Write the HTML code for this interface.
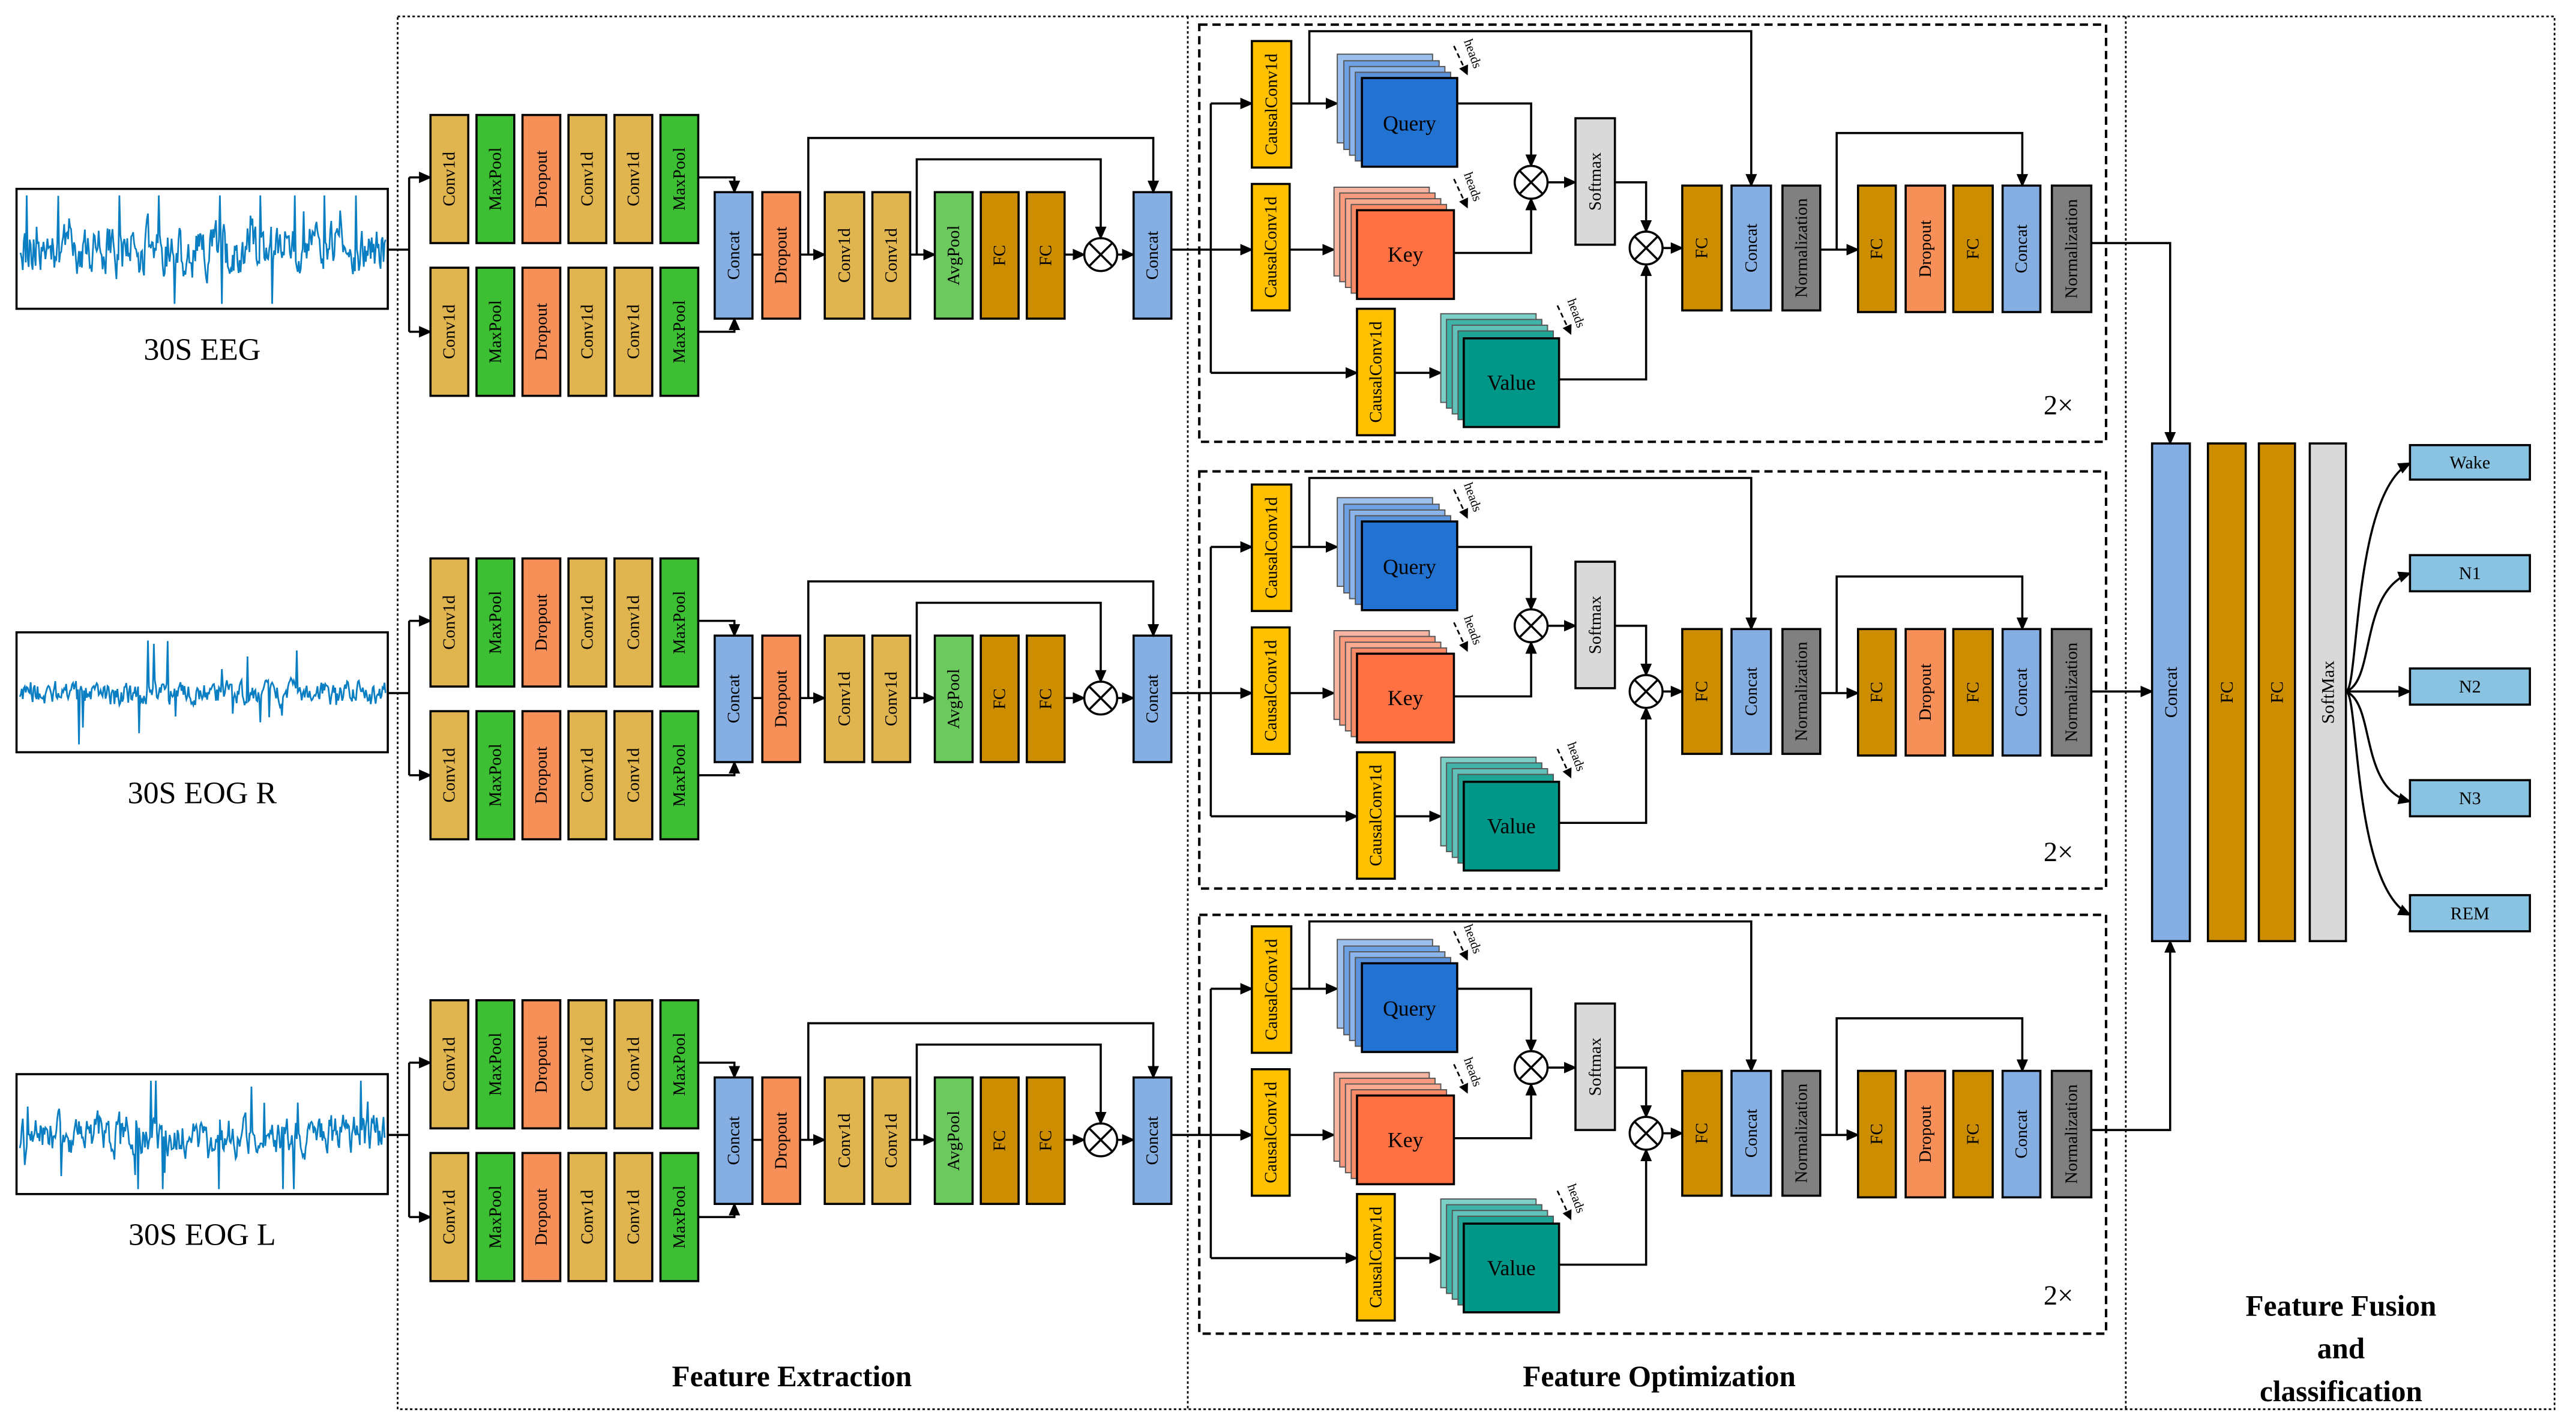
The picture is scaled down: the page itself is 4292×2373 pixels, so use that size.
<!DOCTYPE html>
<html><head><meta charset="utf-8"><style>
html,body{margin:0;padding:0;background:#fff;}
svg{display:block;}
text{font-family:"Liberation Serif",serif;fill:#000;}
.b{stroke:#000;stroke-width:1.3;}
.l{stroke:#000;stroke-width:1.3;fill:none;}
.t{font-size:10.5px;text-anchor:middle;dominant-baseline:central;}
.o{font-size:11px;text-anchor:middle;dominant-baseline:central;}
.qk{font-size:13px;text-anchor:middle;dominant-baseline:central;}
.h{font-size:8px;}
.st{stroke:#555;stroke-width:0.7;}
</style></head><body>
<svg width="4292" height="2373" viewBox="0 0 1568 867" xmlns="http://www.w3.org/2000/svg">
<defs>
<marker id="a" markerWidth="8" markerHeight="8" refX="7" refY="4" orient="auto" markerUnits="userSpaceOnUse"><path d="M0,0.5 L8,4 L0,7.5 Z" fill="#000"/></marker>
<marker id="s" markerWidth="6" markerHeight="6" refX="5" refY="3" orient="auto" markerUnits="userSpaceOnUse"><path d="M0,0 L6,3 L0,6 Z" fill="#000"/></marker>
</defs>
<rect width="1568" height="867" fill="#fff"/>
<rect x="242" y="10" width="1313" height="848" fill="none" stroke="#000" stroke-width="1" stroke-dasharray="1.5,1.5"/>
<line x1="723" y1="10" x2="723" y2="858" stroke="#000" stroke-width="1" stroke-dasharray="1.5,1.5"/>
<line x1="1294" y1="10" x2="1294" y2="858" stroke="#000" stroke-width="1" stroke-dasharray="1.5,1.5"/>

<!-- ===== ROW 1 ===== -->
<g>
<rect x="10" y="115" width="226" height="73" fill="#fff" class="b"/>
<polyline id="w1" fill="none" stroke="#0A7EC2" stroke-width="1" points=""/>
<text x="123" y="213" style="font-size:19px" text-anchor="middle" dominant-baseline="central">30S EEG</text>
<path class="l" d="M236,152 H249 M249,108 V202"/>
<path class="l" marker-end="url(#a)" d="M249,108 H262"/>
<path class="l" marker-end="url(#a)" d="M249,202 H262"/>
<rect x="262" y="70" width="23" height="78" fill="#E0B550" class="b"/><text class="t" transform="translate(273.5,109) rotate(-90)">Conv1d</text>
<rect x="290" y="70" width="23" height="78" fill="#3CBF32" class="b"/><text class="t" transform="translate(301.5,109) rotate(-90)">MaxPool</text>
<rect x="318" y="70" width="23" height="78" fill="#F79058" class="b"/><text class="t" transform="translate(329.5,109) rotate(-90)">Dropout</text>
<rect x="346" y="70" width="23" height="78" fill="#E0B550" class="b"/><text class="t" transform="translate(357.5,109) rotate(-90)">Conv1d</text>
<rect x="374" y="70" width="23" height="78" fill="#E0B550" class="b"/><text class="t" transform="translate(385.5,109) rotate(-90)">Conv1d</text>
<rect x="402" y="70" width="23" height="78" fill="#3CBF32" class="b"/><text class="t" transform="translate(413.5,109) rotate(-90)">MaxPool</text>
<rect x="262" y="163" width="23" height="78" fill="#E0B550" class="b"/><text class="t" transform="translate(273.5,202) rotate(-90)">Conv1d</text>
<rect x="290" y="163" width="23" height="78" fill="#3CBF32" class="b"/><text class="t" transform="translate(301.5,202) rotate(-90)">MaxPool</text>
<rect x="318" y="163" width="23" height="78" fill="#F79058" class="b"/><text class="t" transform="translate(329.5,202) rotate(-90)">Dropout</text>
<rect x="346" y="163" width="23" height="78" fill="#E0B550" class="b"/><text class="t" transform="translate(357.5,202) rotate(-90)">Conv1d</text>
<rect x="374" y="163" width="23" height="78" fill="#E0B550" class="b"/><text class="t" transform="translate(385.5,202) rotate(-90)">Conv1d</text>
<rect x="402" y="163" width="23" height="78" fill="#3CBF32" class="b"/><text class="t" transform="translate(413.5,202) rotate(-90)">MaxPool</text>
<path class="l" marker-end="url(#a)" d="M425,108 H447 V117"/>
<path class="l" marker-end="url(#a)" d="M425,202 H447 V194"/>
<rect x="435" y="117" width="23" height="77" fill="#85AEE3" class="b"/><text class="t" transform="translate(446.5,155.5) rotate(-90)">Concat</text>
<path class="l" d="M458,155 H464"/>
<rect x="464" y="117" width="23" height="77" fill="#F79058" class="b"/><text class="t" transform="translate(475.5,155.5) rotate(-90)">Dropout</text>
<path class="l" marker-end="url(#a)" d="M487,155 H502"/>
<rect x="502" y="117" width="24" height="77" fill="#E0B550" class="b"/><text class="t" transform="translate(514,155.5) rotate(-90)">Conv1d</text>
<rect x="531" y="117" width="23" height="77" fill="#E0B550" class="b"/><text class="t" transform="translate(542.5,155.5) rotate(-90)">Conv1d</text>
<path class="l" marker-end="url(#a)" d="M554,155 H569"/>
<rect x="569" y="117" width="23" height="77" fill="#6CC95E" class="b"/><text class="t" transform="translate(580.5,155.5) rotate(-90)">AvgPool</text>
<rect x="597" y="117" width="23" height="77" fill="#CC8E00" class="b"/><text class="t" transform="translate(608.5,155.5) rotate(-90)">FC</text>
<rect x="625" y="117" width="23" height="77" fill="#CC8E00" class="b"/><text class="t" transform="translate(636.5,155.5) rotate(-90)">FC</text>
<path class="l" marker-end="url(#a)" d="M648,155 H660"/>
<circle cx="670" cy="155" r="10" fill="#fff" class="b"/><path class="l" d="M663,148 L677,162 M677,148 L663,162"/>
<path class="l" marker-end="url(#a)" d="M680,155 H690"/>
<rect x="690" y="117" width="23" height="77" fill="#85AEE3" class="b"/><text class="t" transform="translate(701.5,155.5) rotate(-90)">Concat</text>
<path class="l" marker-end="url(#a)" d="M492,155 V84 H702 V117"/>
<path class="l" marker-end="url(#a)" d="M558,155 V97 H670 V145"/>
<rect x="730" y="15" width="552" height="254" fill="none" stroke="#000" stroke-width="1.5" stroke-dasharray="5,3"/>
<path class="l" d="M713,152 H737 M737,63 V227"/>
<path class="l" marker-end="url(#a)" d="M737,63 H762"/>
<path class="l" marker-end="url(#a)" d="M737,152 H762"/>
<path class="l" marker-end="url(#a)" d="M737,227 H826"/>
<rect x="762" y="25" width="24" height="77" fill="#FFC000" class="b"/><text class="t" transform="translate(774,63.5) rotate(-90)">CausalConv1d</text>
<rect x="762" y="112" width="23" height="77" fill="#FFC000" class="b"/><text class="t" transform="translate(773.5,150.5) rotate(-90)">CausalConv1d</text>
<rect x="826" y="188" width="23" height="77" fill="#FFC000" class="b"/><text class="t" transform="translate(837.5,226.5) rotate(-90)">CausalConv1d</text>
<path class="l" marker-end="url(#a)" d="M786,63 H814"/>
<path class="l" marker-end="url(#a)" d="M785,152 H812"/>
<path class="l" marker-end="url(#a)" d="M849,227 H877"/>
<rect x="814" y="33" width="58" height="54" fill="#9CC0EE" class="st"/>
<rect x="818" y="37" width="58" height="54" fill="#6EA2E4" class="st"/>
<rect x="821.5" y="40.5" width="58" height="54" fill="#8AB4EA" class="st"/>
<rect x="825" y="44" width="58" height="54" fill="#5A93DC" class="st"/>
<rect x="829" y="47.5" width="58" height="54" fill="#2272D1" class="b"/><text class="qk" x="858" y="75">Query</text>
<rect x="812" y="114" width="58" height="54" fill="#F7B4A0" class="st"/>
<rect x="815.5" y="117.5" width="58" height="54" fill="#F99A7E" class="st"/>
<rect x="819" y="121" width="58" height="54" fill="#FBAA90" class="st"/>
<rect x="822.5" y="124.5" width="58" height="54" fill="#FC8A66" class="st"/>
<rect x="826" y="128" width="59" height="54" fill="#FF7043" class="b"/><text class="qk" x="855.5" y="155">Key</text>
<rect x="877" y="191" width="58" height="54" fill="#7CCFC6" class="st"/>
<rect x="880.5" y="194.5" width="58" height="54" fill="#3FB3A7" class="st"/>
<rect x="884" y="198" width="58" height="54" fill="#60C2B8" class="st"/>
<rect x="887.5" y="201.5" width="58" height="54" fill="#1FA394" class="st"/>
<rect x="891" y="206" width="58" height="54" fill="#009688" class="b"/><text class="qk" x="920" y="233">Value</text>
<text class="h" transform="translate(891,25) rotate(70)">heads</text><path d="M885,28 L893,45" stroke="#000" stroke-width="1" stroke-dasharray="3,2" marker-end="url(#s)"/>
<text class="h" transform="translate(891,106) rotate(70)">heads</text><path d="M885,109 L893,126" stroke="#000" stroke-width="1" stroke-dasharray="3,2" marker-end="url(#s)"/>
<text class="h" transform="translate(954,183) rotate(70)">heads</text><path d="M948,186 L956,203" stroke="#000" stroke-width="1" stroke-dasharray="3,2" marker-end="url(#s)"/>
<path class="l" marker-end="url(#a)" d="M797,63 V19 H1066 V113"/>
<path class="l" marker-end="url(#a)" d="M887,63 H932 V101"/>
<path class="l" marker-end="url(#a)" d="M885,154 H932 V121"/>
<circle cx="932" cy="111" r="10" fill="#fff" class="b"/><path class="l" d="M925,104 L939,118 M939,104 L925,118"/>
<path class="l" marker-end="url(#a)" d="M942,111 H959"/>
<rect x="959" y="72" width="24" height="77" fill="#D9D9D9" class="b"/><text class="t" transform="translate(971,110.5) rotate(-90)">Softmax</text>
<path class="l" marker-end="url(#a)" d="M983,111 H1002 V141"/>
<path class="l" marker-end="url(#a)" d="M949,231 H1002 V161"/>
<circle cx="1002" cy="151" r="10" fill="#fff" class="b"/><path class="l" d="M995,144 L1009,158 M1009,144 L995,158"/>
<path class="l" marker-end="url(#a)" d="M1012,151 H1024"/>
<rect x="1024" y="113" width="24" height="76" fill="#CC8E00" class="b"/><text class="t" transform="translate(1036,151) rotate(-90)">FC</text>
<rect x="1054" y="113" width="24" height="76" fill="#85AEE3" class="b"/><text class="t" transform="translate(1066,151) rotate(-90)">Concat</text>
<rect x="1085" y="113" width="23" height="76" fill="#808080" class="b"/><text class="t" transform="translate(1096.5,151) rotate(-90)">Normalization</text>
<path class="l" marker-end="url(#a)" d="M1108,152 H1131"/>
<path class="l" marker-end="url(#a)" d="M1118,152 V81 H1231 V113"/>
<rect x="1131" y="113" width="23" height="77" fill="#CC8E00" class="b"/><text class="t" transform="translate(1142.5,151.5) rotate(-90)">FC</text>
<rect x="1160" y="113" width="24" height="77" fill="#F79058" class="b"/><text class="t" transform="translate(1172,151.5) rotate(-90)">Dropout</text>
<rect x="1189" y="113" width="24" height="77" fill="#CC8E00" class="b"/><text class="t" transform="translate(1201,151.5) rotate(-90)">FC</text>
<rect x="1219" y="113" width="23" height="77" fill="#85AEE3" class="b"/><text class="t" transform="translate(1230.5,151.5) rotate(-90)">Concat</text>
<rect x="1249" y="113" width="24" height="77" fill="#808080" class="b"/><text class="t" transform="translate(1261,151.5) rotate(-90)">Normalization</text>
<text x="1253" y="247" style="font-size:17px" text-anchor="middle" dominant-baseline="central">2×</text>
</g>

<!-- ===== ROW 2 ===== -->
<g transform="translate(0,270)">
<rect x="10" y="115" width="226" height="73" fill="#fff" class="b"/>
<polyline id="w2" fill="none" stroke="#0A7EC2" stroke-width="1" points=""/>
<text x="123" y="213" style="font-size:19px" text-anchor="middle" dominant-baseline="central">30S EOG R</text>
<path class="l" d="M236,152 H249 M249,108 V202"/>
<path class="l" marker-end="url(#a)" d="M249,108 H262"/>
<path class="l" marker-end="url(#a)" d="M249,202 H262"/>
<rect x="262" y="70" width="23" height="78" fill="#E0B550" class="b"/><text class="t" transform="translate(273.5,109) rotate(-90)">Conv1d</text>
<rect x="290" y="70" width="23" height="78" fill="#3CBF32" class="b"/><text class="t" transform="translate(301.5,109) rotate(-90)">MaxPool</text>
<rect x="318" y="70" width="23" height="78" fill="#F79058" class="b"/><text class="t" transform="translate(329.5,109) rotate(-90)">Dropout</text>
<rect x="346" y="70" width="23" height="78" fill="#E0B550" class="b"/><text class="t" transform="translate(357.5,109) rotate(-90)">Conv1d</text>
<rect x="374" y="70" width="23" height="78" fill="#E0B550" class="b"/><text class="t" transform="translate(385.5,109) rotate(-90)">Conv1d</text>
<rect x="402" y="70" width="23" height="78" fill="#3CBF32" class="b"/><text class="t" transform="translate(413.5,109) rotate(-90)">MaxPool</text>
<rect x="262" y="163" width="23" height="78" fill="#E0B550" class="b"/><text class="t" transform="translate(273.5,202) rotate(-90)">Conv1d</text>
<rect x="290" y="163" width="23" height="78" fill="#3CBF32" class="b"/><text class="t" transform="translate(301.5,202) rotate(-90)">MaxPool</text>
<rect x="318" y="163" width="23" height="78" fill="#F79058" class="b"/><text class="t" transform="translate(329.5,202) rotate(-90)">Dropout</text>
<rect x="346" y="163" width="23" height="78" fill="#E0B550" class="b"/><text class="t" transform="translate(357.5,202) rotate(-90)">Conv1d</text>
<rect x="374" y="163" width="23" height="78" fill="#E0B550" class="b"/><text class="t" transform="translate(385.5,202) rotate(-90)">Conv1d</text>
<rect x="402" y="163" width="23" height="78" fill="#3CBF32" class="b"/><text class="t" transform="translate(413.5,202) rotate(-90)">MaxPool</text>
<path class="l" marker-end="url(#a)" d="M425,108 H447 V117"/>
<path class="l" marker-end="url(#a)" d="M425,202 H447 V194"/>
<rect x="435" y="117" width="23" height="77" fill="#85AEE3" class="b"/><text class="t" transform="translate(446.5,155.5) rotate(-90)">Concat</text>
<path class="l" d="M458,155 H464"/>
<rect x="464" y="117" width="23" height="77" fill="#F79058" class="b"/><text class="t" transform="translate(475.5,155.5) rotate(-90)">Dropout</text>
<path class="l" marker-end="url(#a)" d="M487,155 H502"/>
<rect x="502" y="117" width="24" height="77" fill="#E0B550" class="b"/><text class="t" transform="translate(514,155.5) rotate(-90)">Conv1d</text>
<rect x="531" y="117" width="23" height="77" fill="#E0B550" class="b"/><text class="t" transform="translate(542.5,155.5) rotate(-90)">Conv1d</text>
<path class="l" marker-end="url(#a)" d="M554,155 H569"/>
<rect x="569" y="117" width="23" height="77" fill="#6CC95E" class="b"/><text class="t" transform="translate(580.5,155.5) rotate(-90)">AvgPool</text>
<rect x="597" y="117" width="23" height="77" fill="#CC8E00" class="b"/><text class="t" transform="translate(608.5,155.5) rotate(-90)">FC</text>
<rect x="625" y="117" width="23" height="77" fill="#CC8E00" class="b"/><text class="t" transform="translate(636.5,155.5) rotate(-90)">FC</text>
<path class="l" marker-end="url(#a)" d="M648,155 H660"/>
<circle cx="670" cy="155" r="10" fill="#fff" class="b"/><path class="l" d="M663,148 L677,162 M677,148 L663,162"/>
<path class="l" marker-end="url(#a)" d="M680,155 H690"/>
<rect x="690" y="117" width="23" height="77" fill="#85AEE3" class="b"/><text class="t" transform="translate(701.5,155.5) rotate(-90)">Concat</text>
<path class="l" marker-end="url(#a)" d="M492,155 V84 H702 V117"/>
<path class="l" marker-end="url(#a)" d="M558,155 V97 H670 V145"/>
<rect x="730" y="17" width="552" height="254" fill="none" stroke="#000" stroke-width="1.5" stroke-dasharray="5,3"/>
<path class="l" d="M713,152 H737 M737,63 V227"/>
<path class="l" marker-end="url(#a)" d="M737,63 H762"/>
<path class="l" marker-end="url(#a)" d="M737,152 H762"/>
<path class="l" marker-end="url(#a)" d="M737,227 H826"/>
<rect x="762" y="25" width="24" height="77" fill="#FFC000" class="b"/><text class="t" transform="translate(774,63.5) rotate(-90)">CausalConv1d</text>
<rect x="762" y="112" width="23" height="77" fill="#FFC000" class="b"/><text class="t" transform="translate(773.5,150.5) rotate(-90)">CausalConv1d</text>
<rect x="826" y="188" width="23" height="77" fill="#FFC000" class="b"/><text class="t" transform="translate(837.5,226.5) rotate(-90)">CausalConv1d</text>
<path class="l" marker-end="url(#a)" d="M786,63 H814"/>
<path class="l" marker-end="url(#a)" d="M785,152 H812"/>
<path class="l" marker-end="url(#a)" d="M849,227 H877"/>
<rect x="814" y="33" width="58" height="54" fill="#9CC0EE" class="st"/>
<rect x="818" y="37" width="58" height="54" fill="#6EA2E4" class="st"/>
<rect x="821.5" y="40.5" width="58" height="54" fill="#8AB4EA" class="st"/>
<rect x="825" y="44" width="58" height="54" fill="#5A93DC" class="st"/>
<rect x="829" y="47.5" width="58" height="54" fill="#2272D1" class="b"/><text class="qk" x="858" y="75">Query</text>
<rect x="812" y="114" width="58" height="54" fill="#F7B4A0" class="st"/>
<rect x="815.5" y="117.5" width="58" height="54" fill="#F99A7E" class="st"/>
<rect x="819" y="121" width="58" height="54" fill="#FBAA90" class="st"/>
<rect x="822.5" y="124.5" width="58" height="54" fill="#FC8A66" class="st"/>
<rect x="826" y="128" width="59" height="54" fill="#FF7043" class="b"/><text class="qk" x="855.5" y="155">Key</text>
<rect x="877" y="191" width="58" height="54" fill="#7CCFC6" class="st"/>
<rect x="880.5" y="194.5" width="58" height="54" fill="#3FB3A7" class="st"/>
<rect x="884" y="198" width="58" height="54" fill="#60C2B8" class="st"/>
<rect x="887.5" y="201.5" width="58" height="54" fill="#1FA394" class="st"/>
<rect x="891" y="206" width="58" height="54" fill="#009688" class="b"/><text class="qk" x="920" y="233">Value</text>
<text class="h" transform="translate(891,25) rotate(70)">heads</text><path d="M885,28 L893,45" stroke="#000" stroke-width="1" stroke-dasharray="3,2" marker-end="url(#s)"/>
<text class="h" transform="translate(891,106) rotate(70)">heads</text><path d="M885,109 L893,126" stroke="#000" stroke-width="1" stroke-dasharray="3,2" marker-end="url(#s)"/>
<text class="h" transform="translate(954,183) rotate(70)">heads</text><path d="M948,186 L956,203" stroke="#000" stroke-width="1" stroke-dasharray="3,2" marker-end="url(#s)"/>
<path class="l" marker-end="url(#a)" d="M797,63 V21 H1066 V113"/>
<path class="l" marker-end="url(#a)" d="M887,63 H932 V101"/>
<path class="l" marker-end="url(#a)" d="M885,154 H932 V121"/>
<circle cx="932" cy="111" r="10" fill="#fff" class="b"/><path class="l" d="M925,104 L939,118 M939,104 L925,118"/>
<path class="l" marker-end="url(#a)" d="M942,111 H959"/>
<rect x="959" y="72" width="24" height="77" fill="#D9D9D9" class="b"/><text class="t" transform="translate(971,110.5) rotate(-90)">Softmax</text>
<path class="l" marker-end="url(#a)" d="M983,111 H1002 V141"/>
<path class="l" marker-end="url(#a)" d="M949,231 H1002 V161"/>
<circle cx="1002" cy="151" r="10" fill="#fff" class="b"/><path class="l" d="M995,144 L1009,158 M1009,144 L995,158"/>
<path class="l" marker-end="url(#a)" d="M1012,151 H1024"/>
<rect x="1024" y="113" width="24" height="76" fill="#CC8E00" class="b"/><text class="t" transform="translate(1036,151) rotate(-90)">FC</text>
<rect x="1054" y="113" width="24" height="76" fill="#85AEE3" class="b"/><text class="t" transform="translate(1066,151) rotate(-90)">Concat</text>
<rect x="1085" y="113" width="23" height="76" fill="#808080" class="b"/><text class="t" transform="translate(1096.5,151) rotate(-90)">Normalization</text>
<path class="l" marker-end="url(#a)" d="M1108,152 H1131"/>
<path class="l" marker-end="url(#a)" d="M1118,152 V81 H1231 V113"/>
<rect x="1131" y="113" width="23" height="77" fill="#CC8E00" class="b"/><text class="t" transform="translate(1142.5,151.5) rotate(-90)">FC</text>
<rect x="1160" y="113" width="24" height="77" fill="#F79058" class="b"/><text class="t" transform="translate(1172,151.5) rotate(-90)">Dropout</text>
<rect x="1189" y="113" width="24" height="77" fill="#CC8E00" class="b"/><text class="t" transform="translate(1201,151.5) rotate(-90)">FC</text>
<rect x="1219" y="113" width="23" height="77" fill="#85AEE3" class="b"/><text class="t" transform="translate(1230.5,151.5) rotate(-90)">Concat</text>
<rect x="1249" y="113" width="24" height="77" fill="#808080" class="b"/><text class="t" transform="translate(1261,151.5) rotate(-90)">Normalization</text>
<text x="1253" y="249" style="font-size:17px" text-anchor="middle" dominant-baseline="central">2×</text>
</g>

<!-- ===== ROW 3 ===== -->
<g transform="translate(0,539)">
<rect x="10" y="115" width="226" height="73" fill="#fff" class="b"/>
<polyline id="w3" fill="none" stroke="#0A7EC2" stroke-width="1" points=""/>
<text x="123" y="213" style="font-size:19px" text-anchor="middle" dominant-baseline="central">30S EOG L</text>
<path class="l" d="M236,152 H249 M249,108 V202"/>
<path class="l" marker-end="url(#a)" d="M249,108 H262"/>
<path class="l" marker-end="url(#a)" d="M249,202 H262"/>
<rect x="262" y="70" width="23" height="78" fill="#E0B550" class="b"/><text class="t" transform="translate(273.5,109) rotate(-90)">Conv1d</text>
<rect x="290" y="70" width="23" height="78" fill="#3CBF32" class="b"/><text class="t" transform="translate(301.5,109) rotate(-90)">MaxPool</text>
<rect x="318" y="70" width="23" height="78" fill="#F79058" class="b"/><text class="t" transform="translate(329.5,109) rotate(-90)">Dropout</text>
<rect x="346" y="70" width="23" height="78" fill="#E0B550" class="b"/><text class="t" transform="translate(357.5,109) rotate(-90)">Conv1d</text>
<rect x="374" y="70" width="23" height="78" fill="#E0B550" class="b"/><text class="t" transform="translate(385.5,109) rotate(-90)">Conv1d</text>
<rect x="402" y="70" width="23" height="78" fill="#3CBF32" class="b"/><text class="t" transform="translate(413.5,109) rotate(-90)">MaxPool</text>
<rect x="262" y="163" width="23" height="78" fill="#E0B550" class="b"/><text class="t" transform="translate(273.5,202) rotate(-90)">Conv1d</text>
<rect x="290" y="163" width="23" height="78" fill="#3CBF32" class="b"/><text class="t" transform="translate(301.5,202) rotate(-90)">MaxPool</text>
<rect x="318" y="163" width="23" height="78" fill="#F79058" class="b"/><text class="t" transform="translate(329.5,202) rotate(-90)">Dropout</text>
<rect x="346" y="163" width="23" height="78" fill="#E0B550" class="b"/><text class="t" transform="translate(357.5,202) rotate(-90)">Conv1d</text>
<rect x="374" y="163" width="23" height="78" fill="#E0B550" class="b"/><text class="t" transform="translate(385.5,202) rotate(-90)">Conv1d</text>
<rect x="402" y="163" width="23" height="78" fill="#3CBF32" class="b"/><text class="t" transform="translate(413.5,202) rotate(-90)">MaxPool</text>
<path class="l" marker-end="url(#a)" d="M425,108 H447 V117"/>
<path class="l" marker-end="url(#a)" d="M425,202 H447 V194"/>
<rect x="435" y="117" width="23" height="77" fill="#85AEE3" class="b"/><text class="t" transform="translate(446.5,155.5) rotate(-90)">Concat</text>
<path class="l" d="M458,155 H464"/>
<rect x="464" y="117" width="23" height="77" fill="#F79058" class="b"/><text class="t" transform="translate(475.5,155.5) rotate(-90)">Dropout</text>
<path class="l" marker-end="url(#a)" d="M487,155 H502"/>
<rect x="502" y="117" width="24" height="77" fill="#E0B550" class="b"/><text class="t" transform="translate(514,155.5) rotate(-90)">Conv1d</text>
<rect x="531" y="117" width="23" height="77" fill="#E0B550" class="b"/><text class="t" transform="translate(542.5,155.5) rotate(-90)">Conv1d</text>
<path class="l" marker-end="url(#a)" d="M554,155 H569"/>
<rect x="569" y="117" width="23" height="77" fill="#6CC95E" class="b"/><text class="t" transform="translate(580.5,155.5) rotate(-90)">AvgPool</text>
<rect x="597" y="117" width="23" height="77" fill="#CC8E00" class="b"/><text class="t" transform="translate(608.5,155.5) rotate(-90)">FC</text>
<rect x="625" y="117" width="23" height="77" fill="#CC8E00" class="b"/><text class="t" transform="translate(636.5,155.5) rotate(-90)">FC</text>
<path class="l" marker-end="url(#a)" d="M648,155 H660"/>
<circle cx="670" cy="155" r="10" fill="#fff" class="b"/><path class="l" d="M663,148 L677,162 M677,148 L663,162"/>
<path class="l" marker-end="url(#a)" d="M680,155 H690"/>
<rect x="690" y="117" width="23" height="77" fill="#85AEE3" class="b"/><text class="t" transform="translate(701.5,155.5) rotate(-90)">Concat</text>
<path class="l" marker-end="url(#a)" d="M492,155 V84 H702 V117"/>
<path class="l" marker-end="url(#a)" d="M558,155 V97 H670 V145"/>
<rect x="730" y="18" width="552" height="255" fill="none" stroke="#000" stroke-width="1.5" stroke-dasharray="5,3"/>
<path class="l" d="M713,152 H737 M737,63 V227"/>
<path class="l" marker-end="url(#a)" d="M737,63 H762"/>
<path class="l" marker-end="url(#a)" d="M737,152 H762"/>
<path class="l" marker-end="url(#a)" d="M737,227 H826"/>
<rect x="762" y="25" width="24" height="77" fill="#FFC000" class="b"/><text class="t" transform="translate(774,63.5) rotate(-90)">CausalConv1d</text>
<rect x="762" y="112" width="23" height="77" fill="#FFC000" class="b"/><text class="t" transform="translate(773.5,150.5) rotate(-90)">CausalConv1d</text>
<rect x="826" y="188" width="23" height="77" fill="#FFC000" class="b"/><text class="t" transform="translate(837.5,226.5) rotate(-90)">CausalConv1d</text>
<path class="l" marker-end="url(#a)" d="M786,63 H814"/>
<path class="l" marker-end="url(#a)" d="M785,152 H812"/>
<path class="l" marker-end="url(#a)" d="M849,227 H877"/>
<rect x="814" y="33" width="58" height="54" fill="#9CC0EE" class="st"/>
<rect x="818" y="37" width="58" height="54" fill="#6EA2E4" class="st"/>
<rect x="821.5" y="40.5" width="58" height="54" fill="#8AB4EA" class="st"/>
<rect x="825" y="44" width="58" height="54" fill="#5A93DC" class="st"/>
<rect x="829" y="47.5" width="58" height="54" fill="#2272D1" class="b"/><text class="qk" x="858" y="75">Query</text>
<rect x="812" y="114" width="58" height="54" fill="#F7B4A0" class="st"/>
<rect x="815.5" y="117.5" width="58" height="54" fill="#F99A7E" class="st"/>
<rect x="819" y="121" width="58" height="54" fill="#FBAA90" class="st"/>
<rect x="822.5" y="124.5" width="58" height="54" fill="#FC8A66" class="st"/>
<rect x="826" y="128" width="59" height="54" fill="#FF7043" class="b"/><text class="qk" x="855.5" y="155">Key</text>
<rect x="877" y="191" width="58" height="54" fill="#7CCFC6" class="st"/>
<rect x="880.5" y="194.5" width="58" height="54" fill="#3FB3A7" class="st"/>
<rect x="884" y="198" width="58" height="54" fill="#60C2B8" class="st"/>
<rect x="887.5" y="201.5" width="58" height="54" fill="#1FA394" class="st"/>
<rect x="891" y="206" width="58" height="54" fill="#009688" class="b"/><text class="qk" x="920" y="233">Value</text>
<text class="h" transform="translate(891,25) rotate(70)">heads</text><path d="M885,28 L893,45" stroke="#000" stroke-width="1" stroke-dasharray="3,2" marker-end="url(#s)"/>
<text class="h" transform="translate(891,106) rotate(70)">heads</text><path d="M885,109 L893,126" stroke="#000" stroke-width="1" stroke-dasharray="3,2" marker-end="url(#s)"/>
<text class="h" transform="translate(954,183) rotate(70)">heads</text><path d="M948,186 L956,203" stroke="#000" stroke-width="1" stroke-dasharray="3,2" marker-end="url(#s)"/>
<path class="l" marker-end="url(#a)" d="M797,63 V22 H1066 V113"/>
<path class="l" marker-end="url(#a)" d="M887,63 H932 V101"/>
<path class="l" marker-end="url(#a)" d="M885,154 H932 V121"/>
<circle cx="932" cy="111" r="10" fill="#fff" class="b"/><path class="l" d="M925,104 L939,118 M939,104 L925,118"/>
<path class="l" marker-end="url(#a)" d="M942,111 H959"/>
<rect x="959" y="72" width="24" height="77" fill="#D9D9D9" class="b"/><text class="t" transform="translate(971,110.5) rotate(-90)">Softmax</text>
<path class="l" marker-end="url(#a)" d="M983,111 H1002 V141"/>
<path class="l" marker-end="url(#a)" d="M949,231 H1002 V161"/>
<circle cx="1002" cy="151" r="10" fill="#fff" class="b"/><path class="l" d="M995,144 L1009,158 M1009,144 L995,158"/>
<path class="l" marker-end="url(#a)" d="M1012,151 H1024"/>
<rect x="1024" y="113" width="24" height="76" fill="#CC8E00" class="b"/><text class="t" transform="translate(1036,151) rotate(-90)">FC</text>
<rect x="1054" y="113" width="24" height="76" fill="#85AEE3" class="b"/><text class="t" transform="translate(1066,151) rotate(-90)">Concat</text>
<rect x="1085" y="113" width="23" height="76" fill="#808080" class="b"/><text class="t" transform="translate(1096.5,151) rotate(-90)">Normalization</text>
<path class="l" marker-end="url(#a)" d="M1108,152 H1131"/>
<path class="l" marker-end="url(#a)" d="M1118,152 V81 H1231 V113"/>
<rect x="1131" y="113" width="23" height="77" fill="#CC8E00" class="b"/><text class="t" transform="translate(1142.5,151.5) rotate(-90)">FC</text>
<rect x="1160" y="113" width="24" height="77" fill="#F79058" class="b"/><text class="t" transform="translate(1172,151.5) rotate(-90)">Dropout</text>
<rect x="1189" y="113" width="24" height="77" fill="#CC8E00" class="b"/><text class="t" transform="translate(1201,151.5) rotate(-90)">FC</text>
<rect x="1219" y="113" width="23" height="77" fill="#85AEE3" class="b"/><text class="t" transform="translate(1230.5,151.5) rotate(-90)">Concat</text>
<rect x="1249" y="113" width="24" height="77" fill="#808080" class="b"/><text class="t" transform="translate(1261,151.5) rotate(-90)">Normalization</text>
<text x="1253" y="250" style="font-size:17px" text-anchor="middle" dominant-baseline="central">2×</text>
</g>

<!-- ===== FUSION ===== -->
<path class="l" marker-end="url(#a)" d="M1273,148 H1321 V270"/>
<path class="l" marker-end="url(#a)" d="M1273,421 H1310"/>
<path class="l" marker-end="url(#a)" d="M1273,688 H1321 V573"/>
<rect x="1310" y="270" width="23" height="303" fill="#85AEE3" class="b"/><text class="o" transform="translate(1321.5,421.5) rotate(-90)">Concat</text>
<rect x="1344" y="270" width="23" height="303" fill="#CC8E00" class="b"/><text class="o" transform="translate(1355.5,421.5) rotate(-90)">FC</text>
<rect x="1375" y="270" width="22" height="303" fill="#CC8E00" class="b"/><text class="o" transform="translate(1386,421.5) rotate(-90)">FC</text>
<rect x="1406" y="270" width="22" height="303" fill="#D9D9D9" class="b"/><text class="o" transform="translate(1417,421.5) rotate(-90)">SoftMax</text>
<path class="l" marker-end="url(#a)" d="M1428,421 C1436,421 1432,300 1467,282"/>
<path class="l" marker-end="url(#a)" d="M1428,421 C1446,415 1436,360 1467,349"/>
<path class="l" marker-end="url(#a)" d="M1428,421 H1467"/>
<path class="l" marker-end="url(#a)" d="M1428,421 C1446,428 1436,480 1467,488"/>
<path class="l" marker-end="url(#a)" d="M1428,421 C1436,421 1432,540 1467,557"/>
<rect x="1467" y="271" width="73" height="21" fill="#89C3E1" class="b"/><text class="o" x="1503.5" y="281.5">Wake</text>
<rect x="1467" y="338" width="73" height="22" fill="#89C3E1" class="b"/><text class="o" x="1503.5" y="349">N1</text>
<rect x="1467" y="407" width="73" height="22" fill="#89C3E1" class="b"/><text class="o" x="1503.5" y="418">N2</text>
<rect x="1467" y="475" width="73" height="22" fill="#89C3E1" class="b"/><text class="o" x="1503.5" y="486">N3</text>
<rect x="1467" y="545" width="73" height="22" fill="#89C3E1" class="b"/><text class="o" x="1503.5" y="556">REM</text>

<text x="482" y="838" style="font-size:18px;font-weight:bold" text-anchor="middle" dominant-baseline="central">Feature Extraction</text>
<text x="1010" y="838" style="font-size:18px;font-weight:bold" text-anchor="middle" dominant-baseline="central">Feature Optimization</text>
<text x="1425" y="795" style="font-size:18px;font-weight:bold" text-anchor="middle" dominant-baseline="central">Feature Fusion</text>
<text x="1425" y="821" style="font-size:18px;font-weight:bold" text-anchor="middle" dominant-baseline="central">and</text>
<text x="1425" y="847" style="font-size:18px;font-weight:bold" text-anchor="middle" dominant-baseline="central">classification</text>
</svg>
<script>
(function(){
  function rng(seed){return function(){seed=(seed*1103515245+12345)&0x7fffffff;return seed/0x7fffffff;};}
  function wave(id,seed,amp,spikes,mx){
    var r=rng(seed),pts=[],y=0;
    for(var x=12;x<=235;x+=0.6){
      y=y*0.5+(r()-0.5)*amp;
      var v=y;
      if(r()<spikes) v+=(r()-0.5)*amp*6;
      v=Math.max(-mx,Math.min(mx,v));
      pts.push(x.toFixed(1)+","+(152+v).toFixed(1));
    }
    document.getElementById(id).setAttribute("points",pts.join(" "));
  }
  wave("w1",7,26,0.04,33);
  wave("w2",13,12,0.06,32);
  wave("w3",29,20,0.06,33);
})();
</script>
</body></html>
